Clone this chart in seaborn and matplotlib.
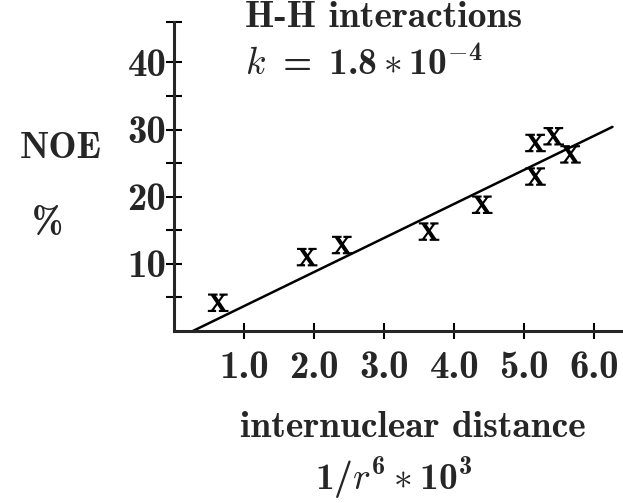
import matplotlib
matplotlib.use("Agg")
import matplotlib.pyplot as plt
import seaborn as sns
import pandas as pd

# measured points: NOE (%) vs 1/r^6 * 10^3
inv_r6 = [0.63, 1.90, 2.40, 3.64, 4.40, 5.16, 5.16, 5.42, 5.66]
noe_pct = [4.2, 11.0, 12.8, 14.8, 18.8, 23.0, 28.0, 29.0, 26.3]

# fitted line end points
fit_x = [0.27, 6.26]
fit_y = [0.0, 30.4]

x_ticks = [1, 2, 3, 4, 5, 6]
x_labels = ["1.0", "2.0", "3.0", "4.0", "5.0", "6.0"]
y_ticks = [10, 20, 30, 40]
y_labels = ["10", "20", "30", "40"]

sns.set_style("ticks")
plt.rcParams["font.family"] = ["cmb10", "DejaVu Serif"]
plt.rcParams["mathtext.fontset"] = "custom"
plt.rcParams["mathtext.rm"] = "cmb10"
plt.rcParams["mathtext.bf"] = "cmb10"
plt.rcParams["mathtext.it"] = "cmmi10"
plt.rcParams["axes.unicode_minus"] = False

fs = 27
fig = plt.figure(figsize=(6.23, 5.03), dpi=100)
ax = fig.add_axes([0.2793, 0.342, 0.7207, 0.614])

df = pd.DataFrame({"x": inv_r6, "y": noe_pct})
sns.lineplot(x=fit_x, y=fit_y, ax=ax, color="black", lw=1.8)
sns.scatterplot(data=df, x="x", y="y", ax=ax, marker=r"$\mathrm{x}$",
                s=220, color="black", edgecolor="none")

ax.set_xlim(0, 6.41)
ax.set_ylim(0, 46)
sns.despine(ax=ax)
for s in ["left", "bottom"]:
    ax.spines[s].set_linewidth(2.2)

ax.set_xticks(x_ticks)
ax.set_xticklabels(x_labels)
ax.set_yticks(y_ticks)
ax.set_yticklabels(y_labels)
ax.set_yticks([5, 15, 25, 35, 46], minor=True)
ax.tick_params(axis="both", which="both", direction="inout", length=11,
               width=1.5, labelsize=28, color="black")
ax.tick_params(axis="x", pad=9)
ax.tick_params(axis="y", pad=0)
ax.set_xlabel("")
ax.set_ylabel("")

fig.text(0.393, 0.946, "H-H interactions", fontsize=fs, va="baseline")
fig.text(0.393, 0.851, r"$k\ =\ 1.8\ast10^{-4}$", fontsize=fs, va="baseline")
fig.text(0.032, 0.686, "NOE", fontsize=fs, va="baseline")
fig.text(0.077, 0.537, "%", fontsize=fs, va="baseline", ha="center")
fig.text(0.663, 0.131, "internuclear distance", fontsize=fs, va="baseline", ha="center")
fig.text(0.506, 0.026, r"$1/r^6\ast10^3$", fontsize=fs, va="baseline")

fig.savefig("out.png", dpi=100)
